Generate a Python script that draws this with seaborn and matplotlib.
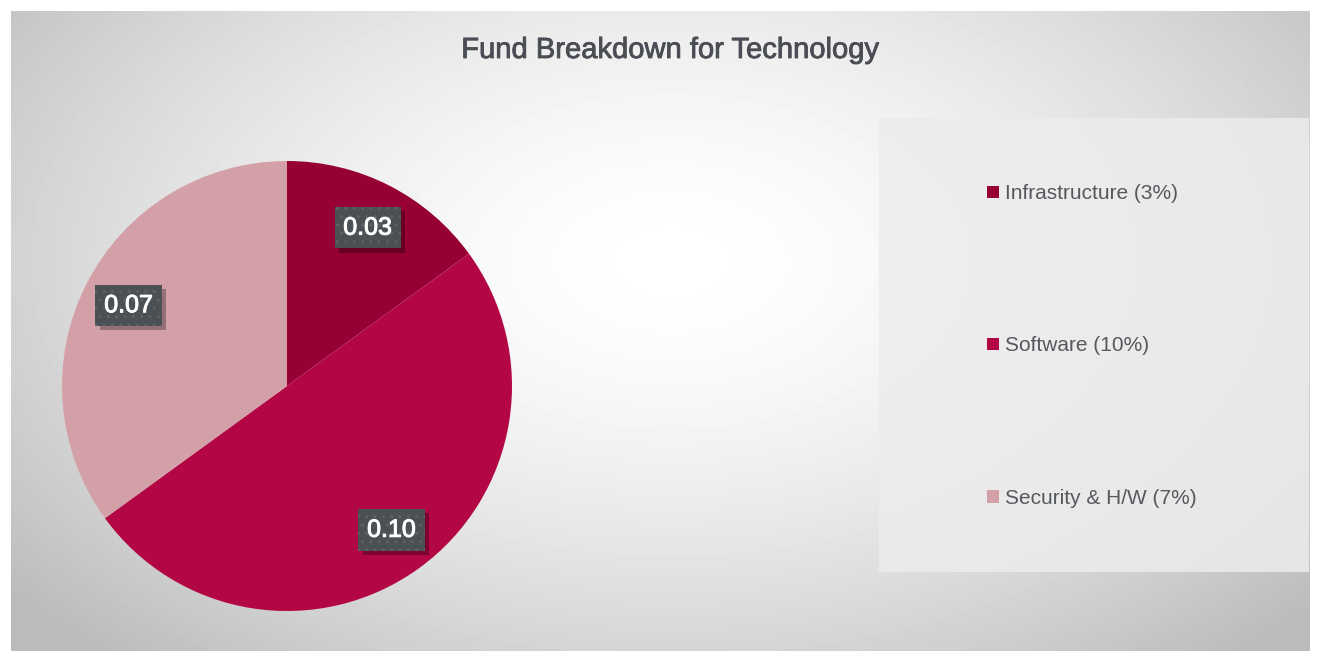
import numpy as np
import seaborn as sns
import matplotlib.pyplot as plt
import matplotlib.patheffects as pe
from matplotlib.patches import Rectangle, Patch

# data
categories = ['Infrastructure', 'Software', 'Security & H/W']
values = [0.03, 0.10, 0.07]
legend_labels = ['Infrastructure (3%)', 'Software (10%)', 'Security & H/W (7%)']
colors = ['#960034', '#b30644', '#d4a0a8']

sns.set_theme(style='white')
plt.rcParams['font.family'] = ['Liberation Sans', 'DejaVu Sans']


class BoxShadow(pe.AbstractPathEffect):
    # plain drop shadow (no hatch) for the label boxes
    def __init__(self, offset=(3, -3), alpha=0.3):
        super().__init__(offset)
        self.alpha = alpha

    def draw_path(self, renderer, gc, tpath, affine, rgbFace):
        gc0 = renderer.new_gc()
        gc0.copy_properties(gc)
        gc0.set_hatch(None)
        gc0.set_linewidth(0)
        gc0.set_alpha(self.alpha)
        renderer.draw_path(gc0, tpath, affine + self._offset_transform(renderer), (0, 0, 0))
        gc0.restore()


W, H = 1317, 651
fig = plt.figure(figsize=(W / 100, H / 100), dpi=100)
fig.patch.set_facecolor('white')

# radial grey background of the chart area
bg = fig.add_axes([11 / W, 0, (1310 - 11) / W, (H - 11) / H])
yy, xx = np.mgrid[0:640, 0:1299]
d = np.sqrt(((xx - 660) / 780) ** 2 + ((yy - 250) / 480) ** 2)
shade = 1 - 0.23 * np.clip(d, 0, 1.1) ** 1.6
bg.imshow(shade, cmap='gray', vmin=0, vmax=1, aspect='auto', interpolation='bilinear')
bg.set_axis_off()

fig.text(670 / W, 1 - 50 / H, 'Fund Breakdown for Technology', ha='center', va='center',
         fontsize=21, color='#4a4d53',
         path_effects=[pe.withStroke(linewidth=0.6, foreground='#4a4d53')])

# pie
cx, cy, r = 287, 386, 225
ax = fig.add_axes([(cx - r) / W, (H - cy - r) / H, 2 * r / W, 2 * r / H])
total = sum(values)
wedges, texts, autotexts = ax.pie(
    values, colors=sns.color_palette(colors), startangle=90, counterclock=False,
    autopct=lambda p: f'{p * total / 100:.2f}', pctdistance=0.79,
    wedgeprops=dict(linewidth=0))
ax.set_xlim(-1, 1)
ax.set_ylim(-1, 1)
ax.set_aspect('auto')
ax.set_axis_off()

for t in autotexts:
    t.set_color('white')
    t.set_fontsize(18)
    t.set_zorder(3)
    t.set_path_effects([pe.withStroke(linewidth=0.7, foreground='white')])
    t.set_bbox(dict(boxstyle='square,pad=0.35', facecolor='#4b5055',
                    edgecolor='#5d6268', hatch='..', linewidth=0))
    t.get_bbox_patch().set_path_effects([BoxShadow(), pe.Normal()])

# legend panel
fig.patches.append(Rectangle((879 / W, 1 - 572 / H), (1309 - 879) / W, (572 - 118) / H,
                             transform=fig.transFigure, facecolor='#ececec', alpha=0.85,
                             edgecolor='none', zorder=0.5))
handles = [Patch(facecolor=c, edgecolor='none') for c in colors]
leg = fig.legend(handles, legend_labels, loc='center left',
                 bbox_to_anchor=(977 / W, 1 - 346 / H), frameon=False, fontsize=15,
                 handlelength=0.55, handleheight=0.55, handletextpad=0.3,
                 labelspacing=6.4, borderpad=0)
for t in leg.get_texts():
    t.set_color('#55585d')

fig.savefig('out.png', dpi=100)
